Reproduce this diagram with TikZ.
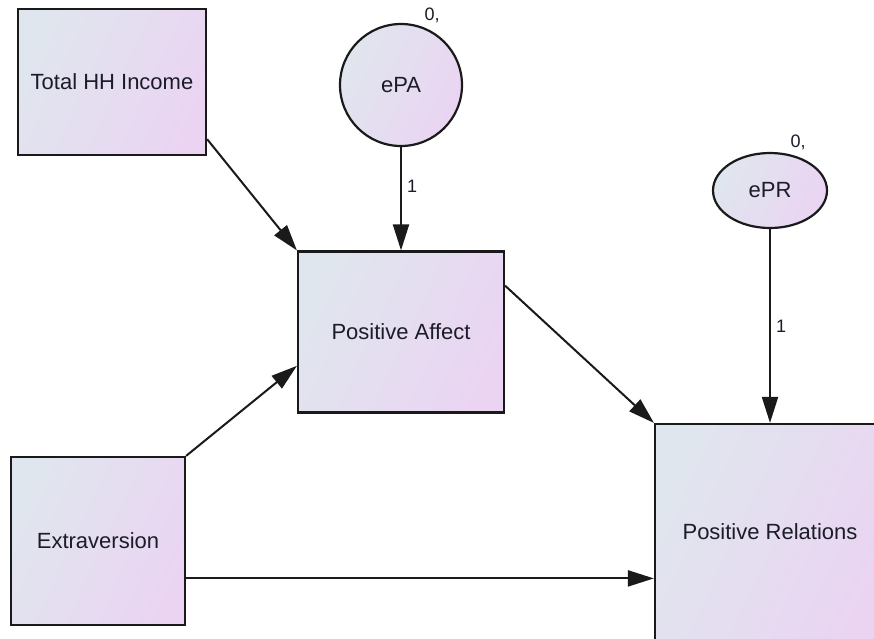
\documentclass[tikz,border=0pt]{standalone}
\usepackage{fontspec}
\setmainfont{Liberation Sans}
\usetikzlibrary{shapes.geometric,arrows.meta}
\definecolor{fillA}{HTML}{E0E6EE}
\definecolor{fillB}{HTML}{EAD4F2}
\definecolor{edgec}{HTML}{1A1A1A}
\definecolor{txtc}{HTML}{1C1C28}
\tikzset{
  var/.style={rectangle, draw=edgec, line width=2.2pt, left color=fillA, right color=fillB, shading angle=65,
    inner sep=0pt, text=txtc, font=\fontsize{22}{26}\selectfont},
  err/.style={draw=edgec, line width=2.2pt, left color=fillA, right color=fillB, shading angle=65,
    inner sep=0pt, text=txtc, font=\fontsize{22}{26}\selectfont},
  path/.style={draw=edgec, line width=2pt, -{Triangle[length=26pt,width=16pt]}},
  lbl/.style={text=txtc, font=\fontsize{18}{21}\selectfont, inner sep=0pt}
}
\begin{document}
\begin{tikzpicture}[x=1pt,y=-1pt]
\clip (0,0) rectangle (874,638);
\fill[white] (0,0) rectangle (874,638);
\node[var, minimum width=188pt, minimum height=146pt] (thh) at (112,82) {Total HH Income};
\node[var, minimum width=206pt, minimum height=161pt] (pa) at (401,332) {Positive Affect};
\node[var, minimum width=174pt, minimum height=168pt] (ext) at (98,541) {Extraversion};
\node[var, minimum width=230pt, minimum height=216pt] (pr) at (770,532) {Positive Relations};
\node[err, circle, minimum size=122pt] (epa) at (401,85) {ePA};
\node[err, ellipse, minimum width=114pt, minimum height=75pt] (epr) at (770,190.5) {ePR};
\node[lbl] (l0a) at (432,15) {0,};
\node[lbl] (l0b) at (798,142) {0,};
\draw[path] (thh.-31) -- (pa.north west);
\draw[path] (ext.north east) -- (pa.-162);
\draw[path] (pa.24) -- (pr.north west);
\draw[path] (ext.-23) -- (ext.-23 -| pr.west);
\draw[path] (epa.south) -- node[lbl, right=5pt, pos=0.38] (l1a) {1} (pa.north);
\draw[path] (epr.south) -- node[lbl, right=5pt, pos=0.5] (l1b) {1} (pr.north);
\end{tikzpicture}
\end{document}
